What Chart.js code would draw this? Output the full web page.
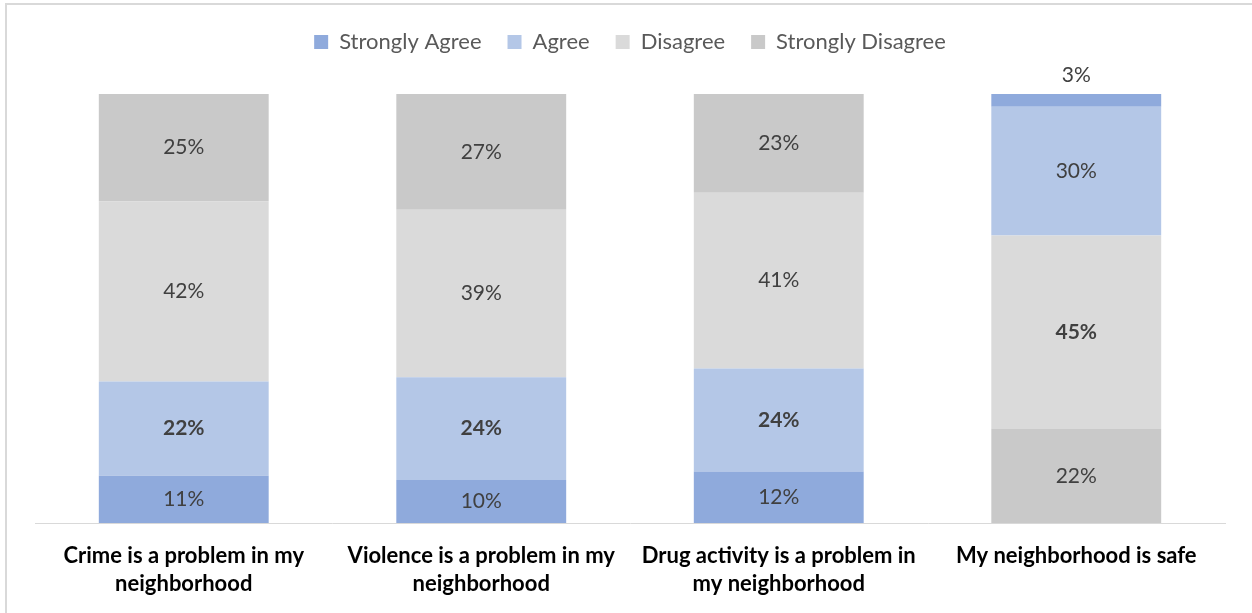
<!DOCTYPE html>
<html>
<head>
<meta charset="utf-8">
<title>Neighborhood perceptions</title>
<script src="https://cdn.jsdelivr.net/npm/chart.js@4.4.1/dist/chart.umd.min.js"></script>
<style>
  html, body { margin: 0; padding: 0; background: #fff; }
  #wrap { position: relative; width: 1252px; height: 613px; overflow: hidden; }
  #frame {
    position: absolute; left: 5px; top: 3px; width: 1400px; height: 700px;
    border-left: 2px solid #d9d9d9; border-top: 2px solid #d9d9d9;
  }
  #chart { position: absolute; left: 0; top: 0; }
</style>
</head>
<body>
<div id="wrap">
  <div id="frame"></div>
  <canvas id="chart" width="1252" height="613"></canvas>
</div>
<script>
// survey statements (x axis, wrapped over two lines)
const categories = [
  ["Crime is a problem in my", "neighborhood"],
  ["Violence is a problem in my", "neighborhood"],
  ["Drug activity is a problem in", "my neighborhood"],
  "My neighborhood is safe",
];

// percent of respondents per answer
const stronglyAgree = [11, 10, 12, 3];
const agree = [22, 24, 24, 30];
const disagree = [42, 39, 41, 45];
const stronglyDisagree = [25, 27, 23, 22];

// the last statement is worded positively, so its stack is flipped
const flipped = [false, false, false, true];

// which answer gets a bold label in each column
const boldAnswer = ["Agree", "Agree", "Agree", "Disagree"];

const answers = [
  { label: "Strongly Agree", values: stronglyAgree, color: "#8faadc" },
  { label: "Agree", values: agree, color: "#b4c7e7" },
  { label: "Disagree", values: disagree, color: "#dadada" },
  { label: "Strongly Disagree", values: stronglyDisagree, color: "#c9c9c9" },
];

function makeDataset(a, useFlipped) {
  return {
    label: a.label,
    data: a.values.map((v, i) => (flipped[i] === useFlipped ? v : null)),
    backgroundColor: a.color,
    borderWidth: 0,
    stack: "s",
    inLegend: !useFlipped,
  };
}

// normal order bottom-up, then the flipped column in reverse order
const datasets = answers
  .map((a) => makeDataset(a, false))
  .concat(answers.slice().reverse().map((a) => makeDataset(a, true)));

const fontFamily = "Lato, 'Open Sans', sans-serif";
Chart.defaults.font.family = fontFamily;

// percentage text inside each segment (above it when the segment is thin)
const segmentLabels = {
  id: "segmentLabels",
  afterDatasetsDraw(chart) {
    const ctx = chart.ctx;
    ctx.save();
    ctx.textAlign = "center";
    ctx.textBaseline = "middle";
    ctx.fillStyle = "#404040";
    chart.data.datasets.forEach((ds, i) => {
      const meta = chart.getDatasetMeta(i);
      meta.data.forEach((bar, j) => {
        const v = ds.data[j];
        if (v == null) return;
        const bold = boldAnswer[j] === ds.label;
        ctx.font = (bold ? "bold " : "") + "21px " + fontFamily;
        const h = bar.base - bar.y;
        const y = h < 24 ? bar.y - 19 : (bar.y + bar.base) / 2;
        ctx.fillText(v + "%", bar.x, y);
      });
    });
    ctx.restore();
  },
};

// leave a gap under the legend
const legendGap = {
  id: "legendGap",
  beforeInit(chart) {
    const fit = chart.legend.fit;
    chart.legend.fit = function () {
      fit.call(this);
      this.height += 31;
    };
  },
};

new Chart(document.getElementById("chart"), {
  type: "bar",
  data: { labels: categories, datasets: datasets },
  plugins: [legendGap, segmentLabels],
  options: {
    responsive: false,
    animation: false,
    layout: { padding: { left: 35, right: 27, top: 5, bottom: 0 } },
    categoryPercentage: 1,
    barPercentage: 0.571,
    plugins: {
      legend: {
        position: "top",
        labels: {
          filter: (item, data) => data.datasets[item.datasetIndex].inLegend,
          boxWidth: 14,
          boxHeight: 14,
          padding: 26,
          color: "#595959",
          font: { size: 22 },
        },
      },
      tooltip: { enabled: false },
    },
    scales: {
      x: {
        stacked: true,
        grid: { display: false },
        border: { display: true, color: "#d9d9d9", width: 1 },
        ticks: {
          color: "#000",
          padding: 11,
          font: { size: 22, weight: "bold", lineHeight: 1.27 },
          maxRotation: 0,
          autoSkip: false,
        },
        afterFit(scale) {
          scale.height = 90;
        },
      },
      y: {
        stacked: true,
        display: false,
        min: 0,
        max: 100,
      },
    },
  },
});
</script>
</body>
</html>
